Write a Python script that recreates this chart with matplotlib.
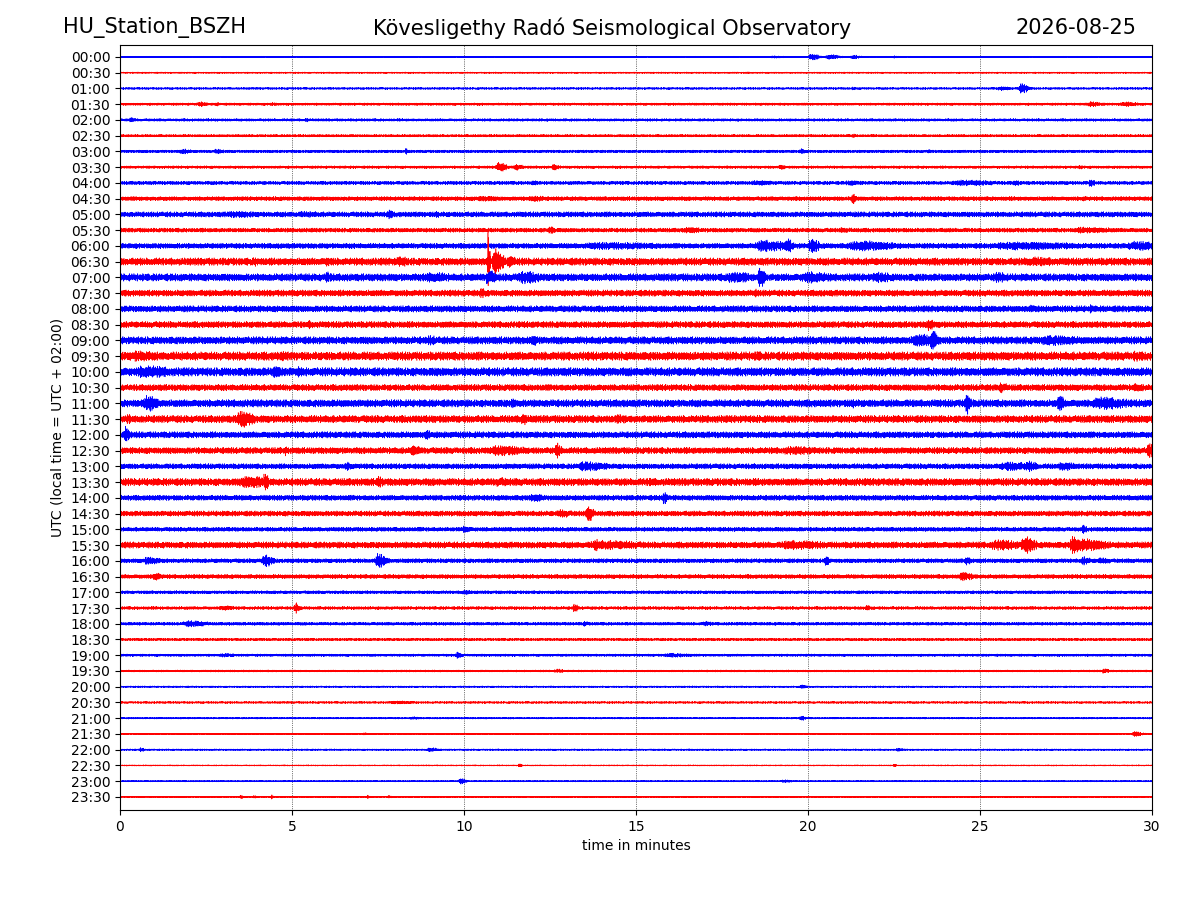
import numpy as np
import matplotlib
matplotlib.use("Agg")
import matplotlib.pyplot as plt

station = "HU_Station_BSZH"
observatory = "Kövesligethy Radó Seismological Observatory"
day = "2026-08-25"

row_labels = ["%02d:%02d" % (h, m) for h in range(24) for m in (0, 30)]

# background noise level of each 30 min line (visible half height, in amp units)
base_amp = [0.7, 0.7, 1.0, 1.2, 1.3, 1.2, 1.3, 1.3, 1.7, 2.0, 2.5, 2.0,
            2.5, 3.5, 3.5, 3.0, 3.0, 3.0, 3.5, 4.0, 4.0, 3.0, 3.5, 3.5,
            3.0, 3.0, 2.5, 3.5, 2.5, 2.5, 2.0, 3.0, 2.0, 2.0, 1.5, 1.5,
            1.5, 1.2, 1.2, 1.0, 0.8, 1.0, 0.8, 0.6, 0.8, 0.6, 0.7, 0.6]

# events: (line, minute, peak amp, duration in minutes)
events = [
    (0, 19.0, 1.2, 0.5), (0, 20.1, 3.0, 0.3), (0, 20.6, 2.5, 0.4), (0, 21.3, 2.0, 0.3), (0, 22.5, 1.2, 0.2),
    (1, 18.2, 1.0, 0.2),
    (2, 21.3, 1.5, 0.2), (2, 25.6, 2.0, 0.4), (2, 26.2, 5.0, 0.25),
    (3, 2.3, 2.5, 0.3), (3, 2.8, 2.0, 0.15), (3, 4.4, 1.8, 0.3), (3, 28.2, 2.5, 0.5), (3, 29.2, 2.3, 0.6),
    (4, 0.3, 2.5, 0.2), (4, 5.4, 2.2, 0.1),
    (5, 21.3, 1.8, 0.2),
    (6, 1.8, 2.5, 0.4), (6, 2.8, 2.4, 0.3), (6, 8.3, 3.0, 0.1), (6, 19.8, 3.0, 0.15), (6, 23.5, 2.0, 0.2),
    (7, 11.0, 4.5, 0.3), (7, 11.5, 3.0, 0.3), (7, 12.6, 3.0, 0.2), (7, 19.2, 2.5, 0.2), (7, 27.9, 2.5, 0.1),
    (8, 12.0, 2.5, 0.2), (8, 18.5, 2.5, 0.8), (8, 21.2, 2.5, 0.6), (8, 24.5, 2.8, 1.5), (8, 26.0, 2.6, 0.3),
    (8, 28.2, 3.5, 0.2),
    (9, 10.5, 2.7, 1.0), (9, 12.0, 3.0, 0.6), (9, 21.3, 5.0, 0.15), (9, 28.0, 2.5, 0.3),
    (10, 3.3, 3.2, 1.5), (10, 5.3, 3.0, 1.2), (10, 7.8, 5.0, 0.15), (10, 9.2, 3.5, 0.2),
    (11, 12.5, 4.0, 0.2), (11, 16.5, 3.0, 0.6), (11, 21.0, 2.5, 0.6), (11, 28.0, 3.0, 1.5),
    (12, 14.0, 3.5, 3.0), (12, 18.7, 5.5, 1.0), (12, 19.4, 7.0, 0.2), (12, 20.1, 7.0, 0.3),
    (12, 21.5, 5.0, 1.5), (12, 26.0, 4.0, 3.0), (12, 29.5, 4.5, 1.0),
    (13, 3.9, 4.5, 0.3), (13, 6.0, 4.5, 0.5), (13, 8.1, 5.0, 0.5), (13, 10.7, 29.0, 0.06),
    (13, 10.9, 12.0, 0.3), (13, 11.3, 6.0, 0.3), (13, 26.5, 4.5, 1.5),
    (14, 6.0, 6.0, 0.2), (14, 9.0, 5.0, 1.0), (14, 10.7, 7.0, 0.3), (14, 11.7, 6.0, 0.8),
    (14, 17.8, 5.5, 0.8), (14, 18.6, 10.0, 0.2), (14, 20.0, 5.5, 1.0), (14, 22.0, 5.0, 0.8), (14, 25.5, 5.0, 0.5),
    (15, 10.5, 4.5, 0.3), (15, 18.5, 4.0, 0.2),
    (16, 26.5, 4.0, 0.3), (16, 28.2, 4.0, 0.2),
    (17, 5.5, 4.0, 0.3), (17, 23.5, 6.0, 0.2),
    (18, 9.0, 5.0, 0.3), (18, 12.0, 5.0, 0.3), (18, 23.2, 6.0, 1.0), (18, 23.6, 11.0, 0.2), (18, 27.0, 5.0, 1.5),
    (19, 0.5, 5.5, 0.8), (19, 4.7, 5.0, 0.3), (19, 18.5, 5.0, 0.3), (19, 29.5, 5.0, 0.5),
    (20, 0.7, 6.0, 1.2), (20, 4.5, 6.0, 0.4), (20, 5.2, 5.0, 0.3),
    (21, 25.6, 5.0, 0.3), (21, 29.5, 4.0, 0.5),
    (22, 0.8, 8.0, 0.4), (22, 11.4, 5.0, 0.2), (22, 21.3, 5.0, 0.2), (22, 24.6, 11.0, 0.15),
    (22, 27.3, 8.0, 0.2), (22, 28.5, 6.0, 1.2),
    (23, 0.2, 5.0, 0.2), (23, 3.5, 8.0, 0.5), (23, 11.7, 6.0, 0.2), (23, 14.5, 4.5, 0.5),
    (24, 0.15, 8.0, 0.15), (24, 8.9, 5.0, 0.2),
    (25, 4.8, 5.0, 0.1), (25, 8.5, 5.0, 0.4), (25, 11.0, 5.0, 1.2), (25, 12.7, 8.0, 0.15),
    (25, 19.5, 4.0, 1.5), (25, 29.9, 8.0, 0.15),
    (26, 6.6, 4.0, 0.3), (26, 13.5, 4.5, 1.0), (26, 25.8, 4.5, 1.0), (26, 26.4, 5.0, 0.4), (26, 27.4, 4.5, 0.5),
    (27, 3.7, 6.0, 1.0), (27, 4.2, 9.0, 0.15), (27, 7.5, 6.0, 0.2), (27, 11.0, 4.5, 0.5), (27, 15.4, 4.5, 0.3),
    (28, 12.0, 4.0, 0.5), (28, 15.8, 6.0, 0.15),
    (29, 12.8, 4.0, 0.5), (29, 13.6, 8.0, 0.2),
    (30, 10.0, 3.5, 0.3), (30, 28.0, 4.0, 0.15),
    (31, 13.8, 6.0, 0.2), (31, 14.0, 4.5, 2.0), (31, 19.5, 4.5, 1.5), (31, 25.5, 5.0, 1.0),
    (31, 26.3, 8.0, 0.4), (31, 27.7, 9.0, 0.3), (31, 28.0, 6.0, 1.0),
    (32, 0.8, 4.0, 0.5), (32, 4.2, 6.0, 0.3), (32, 7.5, 7.0, 0.3), (32, 20.5, 5.0, 0.15),
    (32, 24.6, 4.0, 0.2), (32, 28.0, 4.0, 0.3), (32, 28.5, 3.0, 0.5),
    (33, 1.0, 4.0, 0.3), (33, 24.5, 4.0, 0.5),
    (34, 10.0, 2.5, 0.3),
    (35, 3.0, 2.5, 0.5), (35, 5.1, 5.0, 0.15), (35, 13.2, 4.0, 0.15), (35, 21.7, 3.0, 0.15),
    (36, 2.0, 3.0, 0.8), (36, 13.5, 2.5, 0.2), (36, 17.0, 2.5, 0.3),
    (38, 3.0, 2.0, 0.5), (38, 9.8, 3.0, 0.2), (38, 16.0, 2.0, 1.0),
    (39, 12.7, 2.0, 0.3), (39, 28.6, 2.5, 0.2),
    (40, 19.8, 2.0, 0.2),
    (41, 8.0, 1.6, 1.0),
    (42, 8.5, 1.6, 0.3), (42, 19.8, 2.5, 0.15),
    (43, 7.1, 1.6, 0.1), (43, 29.5, 2.5, 0.3),
    (44, 0.6, 2.0, 0.15), (44, 9.0, 2.2, 0.3), (44, 22.6, 1.8, 0.2),
    (45, 11.6, 2.0, 0.1), (45, 22.5, 1.6, 0.1),
    (46, 9.9, 3.0, 0.2), (46, 19.3, 1.5, 0.3),
    (47, 3.5, 2.0, 0.1), (47, 3.9, 1.8, 0.1), (47, 4.4, 2.0, 0.1), (47, 7.2, 1.8, 0.08), (47, 7.8, 2.0, 0.1),
]

gain = 1.1 / 15.74          # amp units -> fraction of line spacing
n_samp = 6000
# drawing texture so the trace edge looks ragged like a real drum record
grain_a = [0.45, 0.8, 0.35, 0.9, 0.55, 1.0, 0.4, 0.7, 0.6, 0.3, 0.95, 0.5, 0.75,
           0.4, 1.0, 0.55, 0.35, 0.85, 0.6, 0.45, 1.0, 0.7, 0.5, 0.3, 0.9,
           0.55, 0.4, 0.95, 0.65, 0.35, 0.6, 1.0, 0.45, 0.8, 0.4, 0.55, 0.85]
grain_b = [1.0, 0.75, 0.9, 0.6, 1.0, 0.8, 0.55, 1.0, 0.7, 0.95, 0.8, 0.6,
           0.9, 1.0, 0.65, 0.85, 1.0, 0.5, 0.8, 1.0, 0.7, 0.9, 0.65]

t = np.linspace(0, 30, n_samp)
k = np.arange(n_samp)
fig = plt.figure(figsize=(12, 9), dpi=100)
ax = fig.add_axes([0.1, 0.1, 0.86, 0.85])

for i in range(len(row_labels)):
    env = np.full(n_samp, base_amp[i], dtype=float)
    for (r, t0, a, w) in events:
        if r != i:
            continue
        d = t - t0
        bump = np.where(d < 0, a * np.exp(-(d / (0.3 * w)) ** 2), a * np.exp(-(d / w) ** 2))
        env = np.maximum(env, bump)
    g = (np.take(grain_a, (k // 3 + 7 * i) % len(grain_a))
         * np.take(grain_b, (k // 2 + 3 * i) % len(grain_b)))
    sign = np.where(k % 2 == 0, 1.0, -1.0)
    y = i + sign * g * env * gain
    ax.plot(t, y, color="blue" if i % 2 == 0 else "red", lw=0.4)

ax.set_xlim(0, 30)
ax.set_ylim(47.83, -0.76)
ax.set_yticks(range(len(row_labels)))
ax.set_yticklabels(row_labels)
ax.set_xticks([0, 5, 10, 15, 20, 25, 30])
ax.grid(axis="x", linestyle=":", color="black", lw=0.5)
ax.set_xlabel("time in minutes")
ax.set_ylabel("UTC (local time = UTC + 02:00)")

fig.text(0.0525, 0.969, station, fontsize=15, ha="left", va="center")
fig.text(0.51, 0.969, observatory, fontsize=15, ha="center", va="center")
fig.text(0.947, 0.969, day, fontsize=15, ha="right", va="center")

fig.savefig("out.png", dpi=100)
